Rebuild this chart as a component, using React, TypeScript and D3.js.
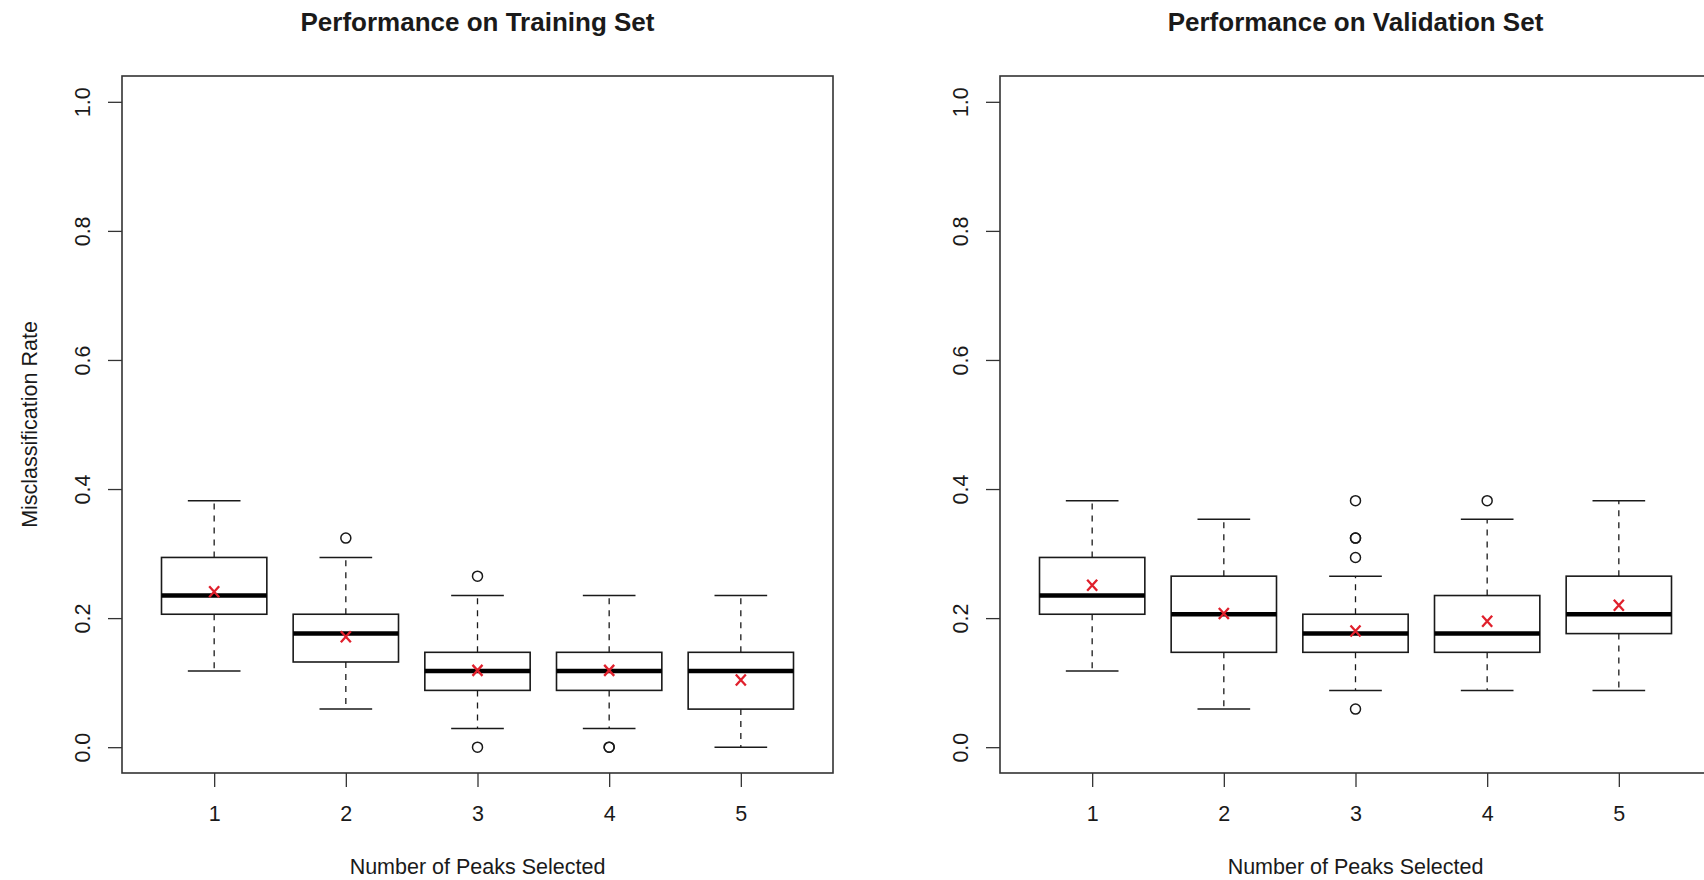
import React, { useEffect, useRef } from "react";
import * as d3 from "d3";

// number of peaks on the x axis
const peaks = [1, 2, 3, 4, 5];
const yTicks = [0, 0.2, 0.4, 0.6, 0.8, 1.0];

// training set boxplots
const trainLow = [0.118, 0.059, 0.029, 0.029, 0.0];
const trainQ1 = [0.206, 0.132, 0.088, 0.088, 0.059];
const trainMed = [0.235, 0.176, 0.118, 0.118, 0.118];
const trainQ3 = [0.294, 0.206, 0.147, 0.147, 0.147];
const trainHigh = [0.382, 0.294, 0.235, 0.235, 0.235];
const trainMean = [0.241, 0.171, 0.119, 0.119, 0.104];
const trainOut = [[], [0.324], [0.265, 0.0], [0.0, 0.0], []];

// validation set boxplots
const validLow = [0.118, 0.059, 0.088, 0.088, 0.088];
const validQ1 = [0.206, 0.147, 0.147, 0.147, 0.176];
const validMed = [0.235, 0.206, 0.176, 0.176, 0.206];
const validQ3 = [0.294, 0.265, 0.206, 0.235, 0.265];
const validHigh = [0.382, 0.353, 0.265, 0.353, 0.382];
const validMean = [0.251, 0.207, 0.18, 0.195, 0.22];
const validOut = [[], [], [0.382, 0.324, 0.324, 0.294, 0.059], [0.382], []];

const width = 1704;
const height = 880;
const plotTop = 76;
const plotBottom = 773;
const plotW = 711;
const font = "'Liberation Sans', Arial, Helvetica, sans-serif";
const ink = "#1a1a1a";
const frame = "#333";
const red = "#e0202c";
const fs = 21.5;

const panels = [
  {
    title: "Performance on Training Set",
    left: 122,
    yLabel: "Misclassification Rate",
    low: trainLow, q1: trainQ1, med: trainMed, q3: trainQ3, high: trainHigh,
    mean: trainMean, out: trainOut,
  },
  {
    title: "Performance on Validation Set",
    left: 1000,
    yLabel: "",
    low: validLow, q1: validQ1, med: validMed, q3: validQ3, high: validHigh,
    mean: validMean, out: validOut,
  },
];

const App = () => {
  const ref: any = useRef(null);

  useEffect(() => {
    const root = d3.select(ref.current);
    root.selectAll("*").remove();

    const svg = root
      .append("svg")
      .attr("width", width)
      .attr("height", height)
      .attr("viewBox", `0 0 ${width} ${height}`)
      .style("display", "block")
      .style("background", "#fff")
      .style("font-family", font);

    panels.forEach((p) => {
      const x = d3.scaleLinear().domain([0.3, 5.7]).range([p.left, p.left + plotW]);
      const y = d3.scaleLinear().domain([-0.04, 1.04]).range([plotBottom, plotTop]);
      const g = svg.append("g");

      const halfBox = x(1.4) - x(1);
      const halfStaple = halfBox / 2;

      peaks.forEach((k, i) => {
        const cx = x(k);
        // whiskers
        [[p.q3[i], p.high[i]], [p.q1[i], p.low[i]]].forEach(([a, b]) => {
          g.append("line")
            .attr("x1", cx).attr("x2", cx)
            .attr("y1", y(a)).attr("y2", y(b))
            .attr("stroke", ink).attr("stroke-width", 1.3)
            .attr("stroke-dasharray", "6 6");
          g.append("line")
            .attr("x1", cx - halfStaple).attr("x2", cx + halfStaple)
            .attr("y1", y(b)).attr("y2", y(b))
            .attr("stroke", ink).attr("stroke-width", 1.5);
        });
        // box
        g.append("rect")
          .attr("x", cx - halfBox)
          .attr("y", y(p.q3[i]))
          .attr("width", halfBox * 2)
          .attr("height", y(p.q1[i]) - y(p.q3[i]))
          .attr("fill", "#fff")
          .attr("stroke", ink)
          .attr("stroke-width", 1.6);
        // median
        g.append("line")
          .attr("x1", cx - halfBox).attr("x2", cx + halfBox)
          .attr("y1", y(p.med[i])).attr("y2", y(p.med[i]))
          .attr("stroke", "#000").attr("stroke-width", 4.5);
        // outliers
        p.out[i].forEach((v: number) => {
          g.append("circle")
            .attr("cx", cx).attr("cy", y(v)).attr("r", 5)
            .attr("fill", "none").attr("stroke", ink).attr("stroke-width", 1.5);
        });
        // mean marker
        const my = y(p.mean[i]);
        g.append("path")
          .attr("d", `M${cx - 5},${my - 5.5}L${cx + 5},${my + 5.5}M${cx - 5},${my + 5.5}L${cx + 5},${my - 5.5}`)
          .attr("stroke", red).attr("stroke-width", 2.3).attr("fill", "none");
      });

      // frame
      g.append("rect")
        .attr("x", p.left).attr("y", plotTop)
        .attr("width", plotW).attr("height", plotBottom - plotTop)
        .attr("fill", "none").attr("stroke", frame).attr("stroke-width", 1.6);

      // y axis
      const yAxis = d3.axisLeft(y).tickValues(yTicks).tickSize(14).tickSizeOuter(0)
        .tickFormat((d: any) => d3.format(".1f")(d));
      const ya = g.append("g").attr("transform", `translate(${p.left},0)`).call(yAxis);
      ya.select(".domain").remove();
      ya.selectAll("line").attr("stroke", frame).attr("stroke-width", 1.3);
      ya.selectAll("text")
        .attr("x", null).attr("dy", null)
        .attr("transform", "translate(-39,0) rotate(-90)")
        .attr("text-anchor", "middle")
        .attr("dominant-baseline", "central")
        .attr("font-size", fs)
        .attr("font-family", font)
        .attr("fill", ink);

      // x axis
      const xAxis = d3.axisBottom(x).tickValues(peaks).tickSize(14).tickSizeOuter(0)
        .tickFormat((d: any) => d3.format("d")(d));
      const xa = g.append("g").attr("transform", `translate(0,${plotBottom})`).call(xAxis);
      xa.select(".domain").remove();
      xa.selectAll("line").attr("stroke", frame).attr("stroke-width", 1.3);
      xa.selectAll("text")
        .attr("y", null).attr("dy", null)
        .attr("transform", "translate(0,41)")
        .attr("text-anchor", "middle")
        .attr("dominant-baseline", "central")
        .attr("font-size", fs)
        .attr("font-family", font)
        .attr("fill", ink);

      const cxPlot = p.left + plotW / 2;
      // title
      g.append("text")
        .attr("x", cxPlot).attr("y", 22)
        .attr("text-anchor", "middle")
        .attr("dominant-baseline", "central")
        .attr("font-size", 26)
        .attr("font-weight", "bold")
        .attr("fill", ink)
        .text(p.title);

      // x label
      g.append("text")
        .attr("x", cxPlot).attr("y", 867)
        .attr("text-anchor", "middle")
        .attr("dominant-baseline", "central")
        .attr("font-size", fs)
        .attr("fill", ink)
        .text("Number of Peaks Selected");

      // y label
      if (p.yLabel) {
        g.append("text")
          .attr("transform", `translate(29.5,${(plotTop + plotBottom) / 2}) rotate(-90)`)
          .attr("text-anchor", "middle")
          .attr("dominant-baseline", "central")
          .attr("font-size", fs)
          .attr("fill", ink)
          .text(p.yLabel);
      }
    });
  }, []);

  return <div ref={ref} style={{ position: "absolute", left: 0, top: 0 }}></div>;
};

export default App;
